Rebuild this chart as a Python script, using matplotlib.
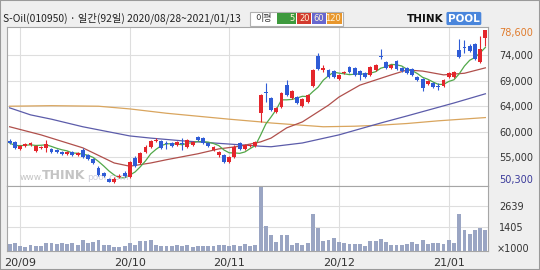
import numpy as np
import pandas as pd
import matplotlib
matplotlib.use("Agg")
import matplotlib.pyplot as plt
from matplotlib.patches import Rectangle

# trading days (KRX holidays removed)
holidays = ["2020-09-30", "2020-10-01", "2020-10-02", "2020-10-09",
            "2020-12-25", "2020-12-31", "2021-01-01"]
dates = pd.bdate_range("2020-08-28", "2021-01-13")
dates = dates[~dates.isin(pd.to_datetime(holidays))]

opens = [58100, 57900, 56600, 57100, 57300, 56200, 56800, 56800, 56600, 56400,
         56000, 55700, 56000, 55500, 56400, 55500, 54700, 53100, 52100, 51000,
         50500, 51400, 52100, 51400, 54900, 54000, 56000, 57000, 58100, 58100,
         57700, 57700, 57300, 57700, 57000, 57300, 58800, 58600, 57700, 56400,
         55500, 55500, 54200, 55100, 57700, 56600, 57100, 57100, 63200, 67100,
         66000, 63400, 64400, 68400, 66000, 66200, 64500, 65300, 68200, 73800,
         71200, 71200, 71000, 69500, 70600, 71800, 71600, 71000, 70600, 70300,
         71200, 73800, 72700, 71600, 72900, 71600, 71600, 71400, 69900, 69500,
         68600, 68800, 68200, 68200, 69900, 69900, 74900, 75500, 75600, 76000,
         72700, 77100]
highs = [58400, 58100, 57300, 57700, 57900, 57300, 57100, 58300, 56800, 56600,
         56200, 56200, 56200, 56000, 56800, 55700, 54900, 53400, 52300, 51200,
         51400, 52000, 52500, 54400, 55300, 56000, 57300, 58300, 58600, 58300,
         58100, 57900, 58100, 58600, 58400, 58100, 59000, 58800, 57900, 57100,
         56200, 55700, 55300, 57300, 57900, 57500, 57500, 58100, 66800, 68800,
         66200, 64400, 67100, 69400, 67500, 66400, 66000, 66800, 71400, 74300,
         72100, 71400, 71200, 70500, 71000, 71900, 71800, 71200, 70800, 71900,
         72300, 75100, 72900, 72300, 73100, 71800, 71800, 71600, 70100, 69700,
         69400, 69000, 68800, 69500, 70800, 71000, 76900, 76700, 76000, 76200,
         77500, 78600]
lows = [57500, 56600, 56400, 57000, 57100, 56100, 56600, 56000, 55800, 55800,
        55500, 55500, 55300, 55300, 54900, 54600, 53800, 51600, 51400, 50400,
        50300, 51200, 51400, 51200, 53300, 53800, 55800, 56800, 57900, 56600,
        56600, 57000, 57100, 56400, 56800, 57100, 58100, 57500, 57000, 56200,
        55100, 54000, 54000, 54900, 56400, 56400, 57000, 57000, 61600, 65300,
        63600, 63200, 64200, 66400, 65800, 64900, 64400, 65100, 68100, 71200,
        70800, 69700, 69700, 69400, 70500, 70600, 70100, 69400, 69700, 70100,
        71000, 73200, 71400, 71400, 71200, 70800, 70500, 70100, 69200, 67300,
        68400, 67900, 67500, 68100, 69700, 69700, 73400, 74300, 74500, 73100,
        72500, 75600]
closes = [57700, 56800, 57100, 57500, 57700, 57100, 57000, 57500, 56000, 56000,
          55700, 56000, 55500, 55800, 55100, 54700, 54000, 51800, 51600, 50500,
          51000, 51500, 51600, 54200, 53400, 55800, 57000, 58100, 58300, 56800,
          57500, 57100, 57900, 57500, 58300, 57900, 58300, 57700, 57100, 57000,
          56000, 54200, 55100, 57000, 56600, 57300, 57300, 57900, 66600, 66900,
          63800, 64200, 66900, 66600, 67300, 65100, 65800, 66600, 71200, 71400,
          71600, 69900, 69900, 70300, 70800, 70800, 70300, 70300, 69900, 71800,
          72100, 73600, 71600, 72100, 71400, 71000, 70600, 70300, 69400, 67900,
          69200, 68100, 68100, 69400, 70600, 70800, 73600, 75300, 74700, 73200,
          75100, 78600]
# volume, x1000 shares
volumes = [431, 490, 294, 235, 353, 294, 314, 451, 490, 431,
           451, 412, 451, 333, 627, 470, 529, 647, 353, 333,
           235, 235, 294, 470, 372, 568, 608, 666, 333, 294,
           274, 274, 333, 274, 333, 255, 294, 274, 274, 274,
           372, 333, 274, 372, 294, 431, 294, 372, 3763, 1470,
           921, 529, 921, 921, 372, 470, 333, 490, 2195, 1352,
           588, 627, 784, 529, 490, 392, 431, 392, 294, 568,
           568, 706, 529, 372, 372, 372, 431, 529, 431, 647,
           392, 470, 470, 431, 627, 490, 2195, 1215, 980, 1215,
           1352, 1215]

# moving averages (day index, price)
ma20_idx = [0, 6, 14, 20, 23, 27, 30, 36, 40, 44, 48, 50, 53, 56, 61, 63, 67, 73, 76, 79, 83, 87, 91]
ma20_val = [60700, 59200, 56800, 54000, 53400, 54000, 54600, 55700, 56600, 57100, 57900, 58600,
            60500, 61600, 64700, 66200, 68400, 70300, 71200, 71000, 70300, 70600, 71600]
ma60_idx = [0, 4, 8, 14, 23, 27, 33, 42, 48, 50, 56, 63, 67, 71, 76, 85, 91]
ma60_val = [64200, 62900, 62100, 60700, 59000, 58600, 58100, 57500, 57100, 57000, 57700,
            59200, 60300, 61400, 62700, 65100, 66800]
ma120_idx = [0, 8, 17, 23, 30, 42, 48, 50, 60, 66, 71, 76, 82, 91]
ma120_val = [64500, 64600, 64500, 64000, 63200, 62100, 61600, 61400, 60700, 60800, 61000,
             61300, 61800, 62400]

vol_ticks = [1405, 2639]

UP, DOWN = "#E4262C", "#2F5CD6"
C5, C20, C60, C120 = "#52A84A", "#B0504C", "#5C5CAA", "#D9A55E"
BG, EDGE, GRID = "#EFEFEF", "#A6A6A6", "#DEDEDE"
KFONT = ["Noto Sans CJK KR", "DejaVu Sans"]

o, h, l, c = map(np.array, (opens, highs, lows, closes))
x = np.arange(len(c))
cols = np.where(c >= o, UP, DOWN)
ma5 = pd.Series(c).rolling(5, min_periods=1).mean()

month_pos = [i for i in range(1, len(dates)) if dates[i].month != dates[i - 1].month]
month_lab = [dates[i].strftime("%y/%m") for i in month_pos]

W, H = 540, 270
fig = plt.figure(figsize=(W / 100, H / 100), dpi=100, facecolor=BG)
ax = fig.add_axes([7 / W, 84 / H, 481 / W, 159 / H])
axv = fig.add_axes([7 / W, 19 / H, 481 / W, 65 / H], sharex=ax)

# price panel
grid = np.linspace(min(lows), max(highs), 7)[1:-1]
ax.set_xlim(-0.5, len(c) - 0.5)
ax.set_ylim(49740, 79155)
ax.set_yticks(grid)
ax.set_yticklabels([f"{int(round(v, -3)):,}" for v in grid])
ax.set_xticks(month_pos)
ax.grid(True, color=GRID, lw=0.8)
ax.set_axisbelow(True)
ax.tick_params(length=0, labelbottom=False, labelleft=False, labelright=True,
               labelsize=7, labelcolor="#333333", pad=8)

# watermark
ax.text(13 / 481, 0.055, "www.", transform=ax.transAxes, fontsize=6.5, color="#C4C4C4", va="center")
ax.text(35 / 481, 0.065, "THINK", transform=ax.transAxes, fontsize=9, fontweight="bold",
        color="#C4C4C4", va="center")
ax.text(80 / 481, 0.055, "pool.com", transform=ax.transAxes, fontsize=6.5, color="#D0D0DA", va="center")

ax.plot(ma120_idx, ma120_val, color=C120, lw=0.9)
ax.plot(ma60_idx, ma60_val, color=C60, lw=0.9)
ax.plot(ma20_idx, ma20_val, color=C20, lw=0.9)
ax.plot(x, ma5, color=C5, lw=0.9)

ax.vlines(x, l, h, colors=cols, lw=0.8, zorder=3)
ax.bar(x, np.maximum(np.abs(c - o), 90), bottom=np.minimum(o, c), width=0.74,
       color=cols, lw=0, zorder=4)

ax.annotate(f"{max(highs):,}", (1, max(highs)), xycoords=("axes fraction", "data"),
            xytext=(8, -2), textcoords="offset points", fontsize=7, color="#E07B2C", va="center")
ax.annotate(f"{min(lows):,}", (1, min(lows)), xycoords=("axes fraction", "data"),
            xytext=(8, 2), textcoords="offset points", fontsize=7, color="#3A3A9A", va="center")

# volume panel
axv.bar(x, volumes, width=0.74, color="#9AA5C3", lw=0)
axv.set_ylim(0, 3850)
axv.set_yticks(vol_ticks)
axv.set_yticklabels([str(v) for v in vol_ticks])
axv.set_xticks(month_pos)
axv.set_xticklabels(month_lab)
axv.grid(True, color=GRID, lw=0.8)
axv.set_axisbelow(True)
axv.tick_params(length=0, labelleft=False, labelright=True, labelsize=7,
                labelcolor="#333333", pad=8)
axv.tick_params(axis="x", labelsize=8, pad=5)
axv.text(1 + 9 / 481, 0.03, "\u00d71000", transform=axv.transAxes, fontsize=7,
         color="#333333", va="center", ha="left")

for a in (ax, axv):
    a.set_facecolor("white")
    for s in a.spines.values():
        s.set_color(EDGE)
        s.set_linewidth(0.8)

# header
fig.text(3 / W, 1 - 18.5 / H, "S-Oil(010950) · 일간(92일) 2020/08/28~2021/01/13",
         family=KFONT, fontsize=7.4, color="#222222", va="center")
fig.patches.append(Rectangle((250 / W, 1 - 25.5 / H), 93 / W, 14 / H, transform=fig.transFigure,
                             facecolor="white", edgecolor="#B0B0B0", lw=0.8))
fig.text(264 / W, 1 - 18.5 / H, "이평", family=KFONT, fontsize=6.5, color="#333333",
         va="center", ha="center")
for x0, w, col, lab in [(277, 19, "#3E9A3E", "5"), (297, 14, "#D23A2E", "20"),
                        (312, 14, "#6767CF", "60"), (327, 15, "#E8962C", "120")]:
    fig.patches.append(Rectangle((x0 / W, 1 - 24 / H), w / W, 11 / H, transform=fig.transFigure,
                                 facecolor=col, edgecolor="none"))
    fig.text((x0 + w - 1.5) / W, 1 - 18.5 / H, lab, fontsize=6, color="#FFF4D8",
             va="center", ha="right")

fig.text(407 / W, 1 - 18.5 / H, "THINK", fontsize=7.5, fontweight="bold", color="#111111",
         va="center")
fig.text(448 / W, 1 - 18.5 / H, "POOL", fontsize=7.5, fontweight="bold", color="white",
         va="center", bbox=dict(boxstyle="round,pad=0.15", facecolor="#4A86DC", edgecolor="none"))

fig.patches.append(Rectangle((0, 0), 1, 1, transform=fig.transFigure, fill=False,
                             edgecolor="#9A9A9A", lw=1.5))

fig.savefig("out.png", dpi=100, facecolor=BG)
